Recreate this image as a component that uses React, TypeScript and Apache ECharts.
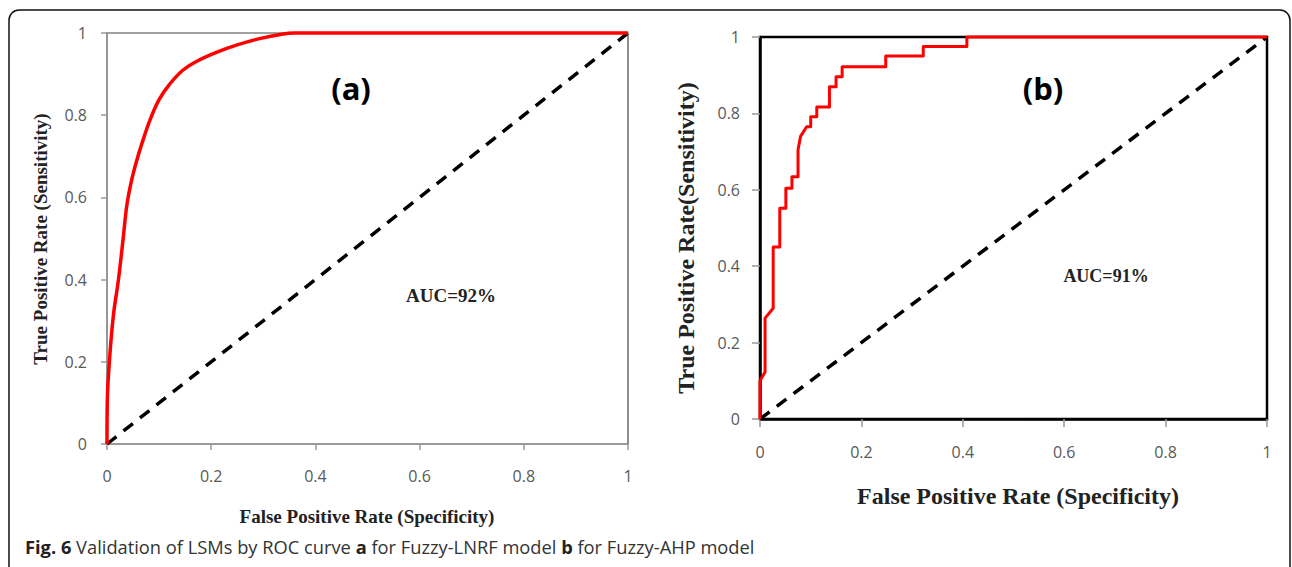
import React, { useEffect, useRef } from "react";
import * as echarts from "echarts";

// Panel (a): Fuzzy-LNRF ROC curve (smooth)
const fprA = [0, 0.0005, 0.004, 0.012, 0.022, 0.031, 0.038, 0.046, 0.056, 0.068, 0.083, 0.1, 0.12, 0.146, 0.175, 0.21, 0.25, 0.295, 0.335, 0.36, 1];
const tprA = [0, 0.1, 0.19, 0.31, 0.4, 0.5, 0.58, 0.635, 0.685, 0.735, 0.79, 0.838, 0.875, 0.91, 0.933, 0.953, 0.971, 0.987, 0.997, 1, 1];

// Panel (b): Fuzzy-AHP ROC curve (staircase)
const fprB = [0, 0, 0.01, 0.01, 0.026, 0.026, 0.039, 0.039, 0.051, 0.051, 0.063, 0.063, 0.075, 0.075, 0.08, 0.092, 0.1, 0.1, 0.112, 0.112, 0.137, 0.137, 0.15, 0.15, 0.162, 0.162, 0.248, 0.248, 0.322, 0.322, 0.408, 0.408, 1];
const tprB = [0, 0.1, 0.123, 0.264, 0.29, 0.45, 0.45, 0.552, 0.552, 0.604, 0.604, 0.634, 0.634, 0.704, 0.74, 0.765, 0.765, 0.791, 0.791, 0.817, 0.817, 0.87, 0.87, 0.896, 0.896, 0.922, 0.922, 0.95, 0.95, 0.975, 0.975, 1, 1];

// Chance (diagonal) line
const chanceX = [0, 1];
const chanceY = [0, 1];

const panelLabels = ["(a)", "(b)"];
const aucLabels = ["AUC=92%", "AUC=91%"];
const xTitles = ["False Positive Rate (Specificity)", "False Positive Rate (Specificity)"];
const yTitles = ["True Positive Rate (Sensitivity)", "True Positive Rate(Sensitivity)"];
const caption = "{b|Fig. 6} Validation of LSMs by ROC curve {b|a} for Fuzzy-LNRF model {b|b} for Fuzzy-AHP model";

const zip = (xs: number[], ys: number[]) => xs.map((x, i) => [x, ys[i]]);

export default function App() {
  const ref = useRef<HTMLDivElement>(null);
  useEffect(() => {
    document.body.style.margin = "0";
    const chart = echarts.init(ref.current!, null, { renderer: "svg" });
    const tickFont = { color: "#595959", fontFamily: "Open Sans", fontSize: 16 };
    const mkAxis = (gi: number, lineColor: string, lw: number, tickLen: number, margin: number) => ({
      gridIndex: gi, type: "value", min: 0, max: 1, interval: 0.2,
      axisLine: { show: true, onZero: false, lineStyle: { color: lineColor, width: lw } },
      axisTick: { show: true, length: tickLen, lineStyle: { color: "#999", width: 1.5 } },
      axisLabel: { ...tickFont, margin },
      splitLine: { show: false },
    });
    const serifBold = { fontFamily: "Liberation Serif", fontWeight: "bold", fill: "#222" };
    chart.setOption({
      animation: false,
      backgroundColor: "#fff",
      grid: [
        { left: 107, top: 33, width: 521, height: 411, show: true, borderColor: "#444", borderWidth: 1.2 },
        { left: 760, top: 37, width: 507, height: 382, show: true, borderColor: "#000", borderWidth: 2.5 },
      ],
      xAxis: [mkAxis(0, "#999", 1.5, 6, 24), mkAxis(1, "#000", 2.5, 8, 25)],
      yAxis: [mkAxis(0, "#999", 1.5, 6, 20), mkAxis(1, "#000", 2.5, 8, 20)],
      series: [
        {
          type: "line", xAxisIndex: 0, yAxisIndex: 0, data: zip(chanceX, chanceY),
          showSymbol: false, lineStyle: { color: "#000", width: 3.5, type: [12, 9] }, clip: false, z: 3,
        },
        {
          type: "line", xAxisIndex: 0, yAxisIndex: 0, data: zip(fprA, tprA),
          showSymbol: false, smooth: 0.4,
          lineStyle: { color: "#ff0000", width: 3.5 }, clip: false, z: 4,
        },
        {
          type: "line", xAxisIndex: 1, yAxisIndex: 1, data: zip(chanceX, chanceY),
          showSymbol: false, lineStyle: { color: "#000", width: 3.5, type: [12, 9] }, clip: false, z: 3,
        },
        {
          type: "line", xAxisIndex: 1, yAxisIndex: 1, data: zip(fprB, tprB),
          showSymbol: false, lineStyle: { color: "#ff0000", width: 3, join: "round" }, clip: false, z: 4,
        },
      ],
      graphic: [
        {
          type: "rect", shape: { x: 9, y: 10, width: 1281, height: 620, r: 10 },
          style: { fill: "none", stroke: "#111", lineWidth: 1.5 }, z: 0, silent: true,
        },
        { type: "text", x: 351, y: 88, style: { text: panelLabels[0], font: "bold 31px 'Open Sans'", fill: "#000", align: "center", verticalAlign: "middle" } },
        { type: "text", x: 1043, y: 88, style: { text: panelLabels[1], font: "bold 31px 'Open Sans'", fill: "#000", align: "center", verticalAlign: "middle" } },
        { type: "text", x: 451, y: 295, style: { text: aucLabels[0], ...serifBold, fontSize: 19, align: "center", verticalAlign: "middle" } },
        { type: "text", x: 1106, y: 276, style: { text: aucLabels[1], ...serifBold, fontSize: 18, align: "center", verticalAlign: "middle" } },
        { type: "text", x: 367, y: 516, style: { text: xTitles[0], ...serifBold, fontSize: 19, align: "center", verticalAlign: "middle" } },
        { type: "text", x: 1018, y: 496, style: { text: xTitles[1], ...serifBold, fontSize: 24, align: "center", verticalAlign: "middle" } },
        { type: "text", x: 40, y: 239, rotation: Math.PI / 2, style: { text: yTitles[0], ...serifBold, fontSize: 19, align: "center", verticalAlign: "middle" } },
        { type: "text", x: 686, y: 238, rotation: Math.PI / 2, style: { text: yTitles[1], ...serifBold, fontSize: 24, align: "center", verticalAlign: "middle" } },
        {
          type: "text", x: 25, y: 546,
          style: {
            text: caption, fontFamily: "Open Sans", fontSize: 18.3, fill: "#333", verticalAlign: "middle",
            rich: { b: { fontFamily: "Open Sans", fontSize: 18.3, fontWeight: "bold", fill: "#222" } },
          },
        },
      ],
    });
    return () => chart.dispose();
  }, []);
  return <div ref={ref} style={{ width: 1292, height: 567 }} />;
}
